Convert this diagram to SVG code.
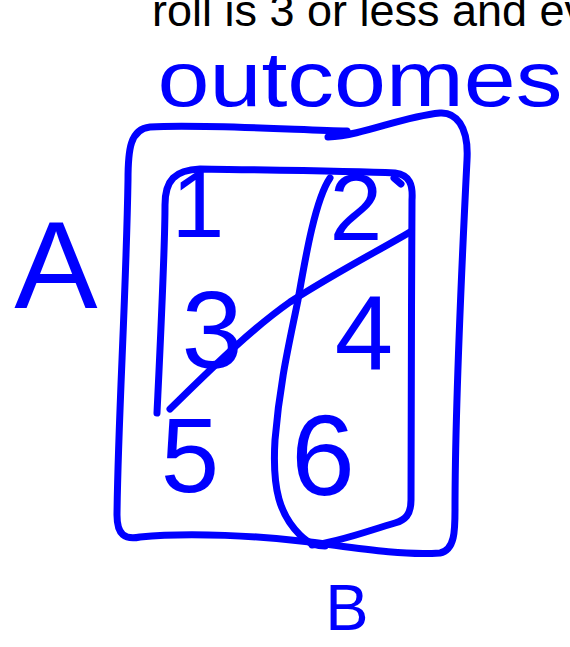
<svg xmlns="http://www.w3.org/2000/svg" width="570" height="647" viewBox="0 0 570 647">
<style>
.ink{fill:none;stroke:#0000FF;stroke-width:7;stroke-linecap:round;stroke-linejoin:round}
.hw{font-family:"Liberation Sans",Arial,sans-serif;fill:#0000FF;text-anchor:middle}
.top{font-family:"Liberation Sans",Arial,sans-serif;fill:#000;font-size:44px}
</style>
<rect width="570" height="647" fill="#fff"/>
<text class="top" x="152" y="26" textLength="435" lengthAdjust="spacingAndGlyphs">roll is 3 or less and ev</text>
<g id="title">
<text class="hw" x="360" y="106" font-size="78" textLength="405" lengthAdjust="spacingAndGlyphs">outcomes</text>
</g>
<g id="connectors">
<path id="outer" class="ink" d="M347,131 C300,130 200,124 150,127 C130,129 128,150 128,180 C126,300 118,420 117,515 C117,535 125,540 140,537 C190,532 260,536 310,542 C350,547 400,556 440,553 C455,550 455,530 455,510 C455,400 462,260 467,160 C469,125 455,112 440,113 C400,117 365,135 328,137"/>
<path id="inner" class="ink" d="M157,413 C160,350 165,250 165,205 C165,180 175,170 200,169 C260,170 350,171 395,173 C410,175 413,185 412,200 C411,300 412,420 411,500 C411,515 405,520 395,523 C370,530 340,542 312,545"/>
<path class="ink" d="M394,178 L401,184"/>
<path id="setB" class="ink" d="M330,178 C315,200 305,260 298,300 C290,340 280,380 275,440 C272,490 280,515 300,535 C310,545 318,546 325,546"/>
<path id="diag" class="ink" d="M410,232 C380,250 340,270 290,302 C250,330 210,370 170,409"/>
</g>
<g id="labelA"><text class="hw" x="56" y="308" font-size="125">A</text></g>
<g id="labelB"><text class="hw" x="347" y="630" font-size="65">B</text></g>
<g id="o1"><text class="hw" x="198" y="237" font-size="95">1</text></g>
<g id="o2"><text class="hw" x="356" y="240" font-size="95">2</text></g>
<g id="o3"><text class="hw" x="212" y="368" font-size="110">3</text></g>
<g id="o4"><text class="hw" x="364" y="370" font-size="105">4</text></g>
<g id="o5"><text class="hw" x="190" y="492" font-size="105">5</text></g>
<g id="o6"><text class="hw" x="323" y="495" font-size="115">6</text></g>
</svg>
